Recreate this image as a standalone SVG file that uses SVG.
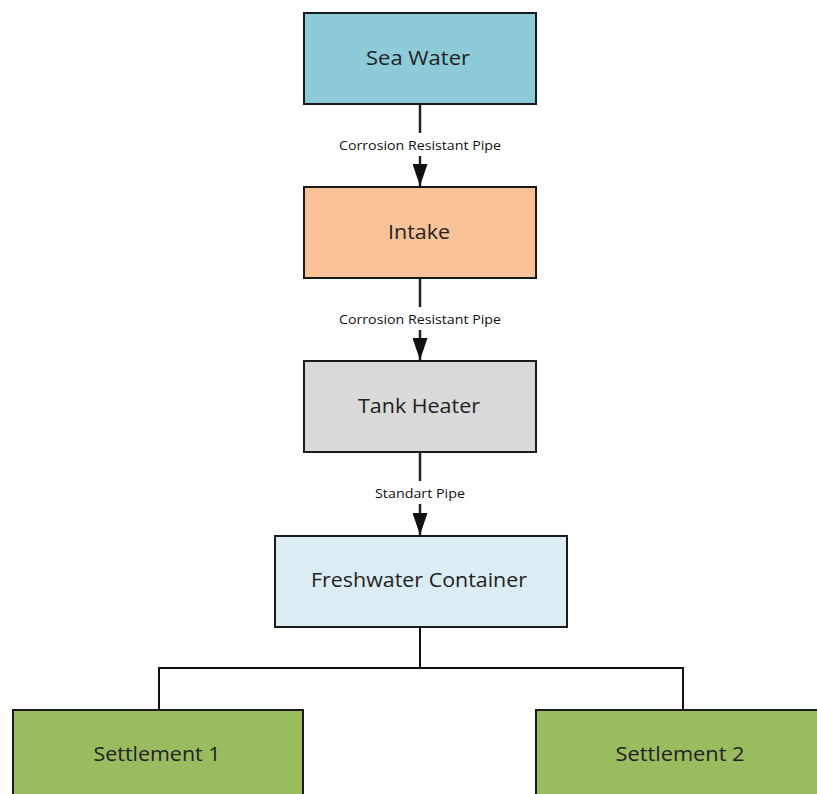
<svg xmlns="http://www.w3.org/2000/svg" width="817" height="794" viewBox="0 0 817 794">
<style>
.box{stroke:#1a1a1a;stroke-width:2}
.lbl{font-family:"Open Sans","Liberation Sans",sans-serif;font-size:20px;fill:#222;text-anchor:middle;dominant-baseline:central}
.edge{font-family:"Open Sans","Liberation Sans",sans-serif;font-size:12px;fill:#111;text-anchor:middle;dominant-baseline:central}
.con{stroke:#222;stroke-width:2.5;fill:none}
.con2{stroke:#111;stroke-width:2;fill:none}
</style>
<defs>
<marker id="ah" markerWidth="22" markerHeight="15" refX="22" refY="7.5" orient="auto" markerUnits="userSpaceOnUse" viewBox="0 0 22 15">
<path d="M0,0 L22,7.5 L0,15 Z" fill="#111"/>
</marker>
</defs>
<rect width="817" height="794" fill="#fff"/>
<g id="connectors">
<line class="con" x1="420" y1="104" x2="420" y2="133"/>
<line class="con" x1="420" y1="156" x2="420" y2="186" marker-end="url(#ah)"/>
<text class="edge" x="420" y="145" textLength="162" lengthAdjust="spacingAndGlyphs">Corrosion Resistant Pipe</text>
<line class="con" x1="420" y1="278" x2="420" y2="307"/>
<line class="con" x1="420" y1="330" x2="420" y2="360" marker-end="url(#ah)"/>
<text class="edge" x="420" y="319" textLength="162" lengthAdjust="spacingAndGlyphs">Corrosion Resistant Pipe</text>
<line class="con" x1="420" y1="452" x2="420" y2="481"/>
<line class="con" x1="420" y1="504" x2="420" y2="535" marker-end="url(#ah)"/>
<text class="edge" x="420" y="493" textLength="90" lengthAdjust="spacingAndGlyphs">Standart Pipe</text>
<polyline class="con2" points="420,627 420,668 159,668 159,710"/>
<polyline class="con2" points="420,668 683,668 683,710"/>
</g>
<g id="sea-water">
<rect class="box" x="304" y="13" width="232" height="91" fill="#8ecbd9"/>
<text class="lbl" x="418" y="57" textLength="104" lengthAdjust="spacingAndGlyphs">Sea Water</text>
</g>
<g id="intake">
<rect class="box" x="304" y="187" width="232" height="91" fill="#f9c297"/>
<text class="lbl" x="419" y="231" textLength="62" lengthAdjust="spacingAndGlyphs">Intake</text>
</g>
<g id="tank-heater">
<rect class="box" x="304" y="361" width="232" height="91" fill="#d9d9d9"/>
<text class="lbl" x="419" y="405" textLength="122" lengthAdjust="spacingAndGlyphs">Tank Heater</text>
</g>
<g id="freshwater-container">
<rect class="box" x="275" y="536" width="292" height="91" fill="#dbecf2"/>
<text class="lbl" x="419" y="579" textLength="216" lengthAdjust="spacingAndGlyphs">Freshwater Container</text>
</g>
<g id="settlement-1">
<rect class="box" x="13" y="710" width="290" height="100" fill="#9bbb5f"/>
<text class="lbl" x="157" y="753" textLength="127" lengthAdjust="spacingAndGlyphs">Settlement 1</text>
</g>
<g id="settlement-2">
<rect class="box" x="536" y="710" width="300" height="100" fill="#9bbb5f"/>
<text class="lbl" x="680" y="753" textLength="129" lengthAdjust="spacingAndGlyphs">Settlement 2</text>
</g>
</svg>
